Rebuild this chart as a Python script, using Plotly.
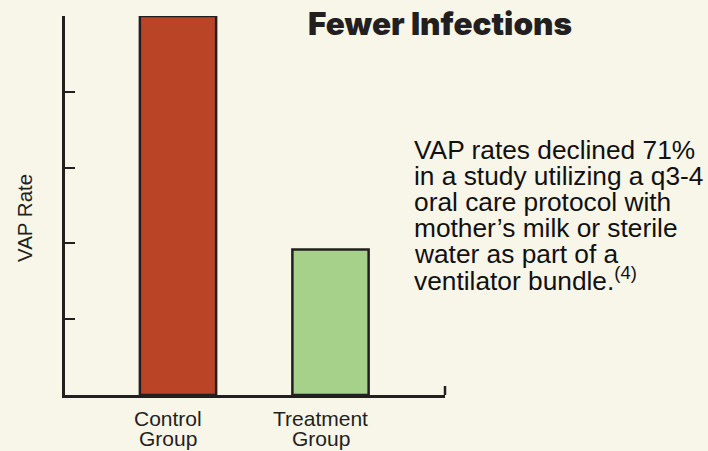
import plotly.graph_objects as go

# ---- data ----
categories = ["Control Group", "Treatment Group"]
label_lines = [["Control", "Group"], ["Treatment", "Group"]]
vap_rate = [5.0, 1.92]
bar_colors = ["#b94526", "#a5d18b"]
title_text = "Fewer Infections"
y_title = "VAP Rate"
note_lines = [
    "VAP rates declined 71%",
    "in a study utilizing a q3-4",
    "oral care protocol with",
    "mother\u2019s milk or sterile",
    "water as part of a",
    "ventilator bundle.<sup>(4)</sup>",
]

W, H = 708, 451
L, R, T, B = 65, 708 - 445, 16, 451 - 395
PW, PH = W - L - R, H - T - B
INK = "#231f20"
BG = "#f8f5e9"


def px_x(px):
    return (px - L) / PW


def px_y(py):
    return (H - B - py) / PH


fig = go.Figure(
    go.Bar(
        x=categories,
        y=vap_rate,
        width=0.5,
        marker=dict(color=bar_colors, line=dict(color=INK, width=2.5)),
        hoverinfo="skip",
    )
)

annotations = []
# title
title_size = 31.5
annotations.append(dict(
    text=title_text, xref="paper", yref="paper",
    x=px_x(307), y=px_y(36 + 0.24 * title_size), xanchor="left", yanchor="bottom",
    showarrow=False, borderpad=0,
    font=dict(family="Inter, Roboto, sans-serif", size=title_size, color=INK, weight=900),
))
# note text, one annotation per line for tight leading
note_size = 26.3
for i, line in enumerate(note_lines):
    baseline = 160 + 26.2 * i
    annotations.append(dict(
        text=line, xref="paper", yref="paper",
        x=px_x(413), y=px_y(baseline + 0.212 * note_size),
        xanchor="left", yanchor="bottom", showarrow=False, borderpad=0,
        font=dict(family="Liberation Sans, Arial, sans-serif", size=note_size, color="#111111"),
    ))
# category labels (two lines each)
lab_size = 21
for cat, lines in zip(categories, label_lines):
    for j, line in enumerate(lines):
        baseline = 426.7 + 19.5 * j
        annotations.append(dict(
            text=line, xref="x", yref="paper", x=cat, xshift=-10,
            y=px_y(baseline + 0.212 * lab_size),
            xanchor="center", yanchor="bottom", showarrow=False, borderpad=0,
            font=dict(family="Liberation Sans, Arial, sans-serif", size=lab_size, color=INK),
        ))
# y-axis title
annotations.append(dict(
    text=y_title, xref="paper", yref="paper", x=px_x(24), y=px_y(218),
    xanchor="center", yanchor="middle", textangle=-90, showarrow=False,
    font=dict(family="Liberation Sans, Arial, sans-serif", size=20.5, color=INK),
))

fig.update_layout(
    width=W, height=H,
    margin=dict(l=L, r=R, t=T, b=B, pad=0),
    paper_bgcolor=BG, plot_bgcolor=BG,
    showlegend=False,
    annotations=annotations,
    shapes=[dict(type="line", xref="paper", yref="paper", x0=1, x1=1,
                 y0=0, y1=9 / PH, line=dict(color=INK, width=2.5))],
    xaxis=dict(range=[-(178 - L) / 152.5, (445 - 178) / 152.5], showline=True,
               linecolor=INK, linewidth=2.5, ticks="", showticklabels=False,
               showgrid=False, zeroline=False, fixedrange=True),
    yaxis=dict(range=[0, 5], dtick=1, tick0=0, showline=True, linecolor=INK,
               linewidth=2.5, ticks="inside", ticklen=10, tickwidth=2.2,
               tickcolor=INK, showticklabels=False, showgrid=False,
               zeroline=False, fixedrange=True),
)

fig.write_html(
    "out.html",
    config={"displayModeBar": False},
    post_script="document.body.style.margin='0';document.body.style.background='%s';" % BG,
)
